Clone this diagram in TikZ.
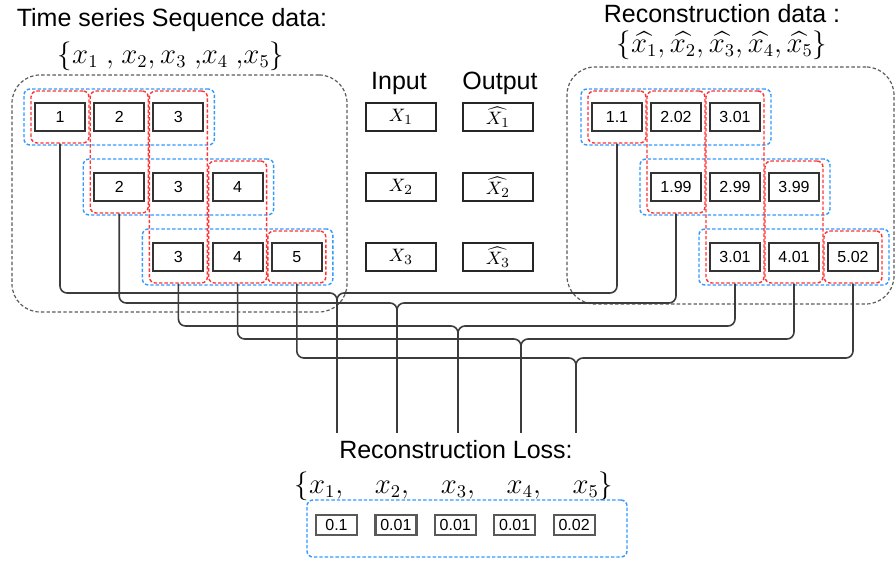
\documentclass[tikz,border=0pt]{standalone}
\usepackage{fontspec}
\setmainfont{Liberation Sans}
\usepackage{amsmath}
\usepackage{tikz}
\usetikzlibrary{positioning,fit}
\definecolor{winblue}{RGB}{51,153,255}
\definecolor{stepred}{RGB}{255,51,51}
\definecolor{framegray}{RGB}{90,90,90}
\definecolor{wiregray}{RGB}{60,60,60}

\begin{document}
\begin{tikzpicture}[x=0.5pt, y=-0.5pt,
    title/.style={inner sep=0pt, font=\fontsize{12.5}{15}\selectfont},
    mathlbl/.style={inner sep=0pt, font=\fontsize{13.5}{16}\selectfont},
    cell/.style={draw=black!80, line width=1pt, minimum width=25pt, minimum height=14pt, inner sep=0pt, font=\fontsize{8}{10}\selectfont},
    midcell/.style={draw=black!85, line width=0.8pt, minimum width=35pt, minimum height=14pt, inner sep=0pt, font=\fontsize{9.5}{11}\selectfont},
    losscell/.style={draw=black!65, line width=1.1pt, minimum width=20.5pt, minimum height=10pt, inner sep=0pt, font=\fontsize{8}{10}\selectfont},
    rowgrp/.style={draw=winblue, line width=0.7pt, dash pattern=on 1.7pt off 1pt, rounded corners=3pt, inner xsep=5pt, inner ysep=6.5pt},
    colgrp/.style={draw=stepred, line width=0.7pt, dash pattern=on 1.7pt off 1pt, rounded corners=3pt, inner xsep=1.5pt, inner ysep=5.5pt},
    outergrp/.style={draw=framegray, line width=0.6pt, dash pattern=on 1.7pt off 1.1pt, rounded corners=14pt, inner sep=0pt},
    wire/.style={draw=wiregray, line width=0.8pt, rounded corners=3.5pt}]
\useasboundingbox (0,0) rectangle (896,561);

% Titles
\node[title] (seqlbl) at (172,20) {Time series Sequence data:};
\node[mathlbl] (seqset) at (171,56) {$\{x_1\ {,}\ x_2, x_3\ {,}x_4\ {,}x_5\}$};
\node[title] (reclbl) at (722,14) {Reconstruction data :};
\node[mathlbl] (recset) at (722,45) {$\{\widehat{x_1}, \widehat{x_2}, \widehat{x_3}, \widehat{x_4}, \widehat{x_5}\}$};
\node[title] (inlbl) at (399,83) {Input};
\node[title] (outlbl) at (500,83) {Output};

% Outer frames
\node[outergrp, fit={(12,75) (347,312)}] (seqbox) {};
\node[outergrp, fit={(567,67) (894,304)}] (recbox) {};

% Sliding windows: input data and reconstruction
\foreach \r/\c/\v in {1/1/1, 1/2/2, 1/3/3, 2/2/2, 2/3/3, 2/4/4, 3/3/3, 3/4/4, 3/5/5}
    \node[cell] (l\r\c) at ({60+(\c-1)*59.2}, {47+70*\r}) {\v};
\foreach \r/\c/\v in {1/1/1.1, 1/2/2.02, 1/3/3.01, 2/2/1.99, 2/3/2.99, 2/4/3.99, 3/3/3.01, 3/4/4.01, 3/5/5.02}
    \node[cell] (h\r\c) at ({617+(\c-1)*59}, {47+70*\r}) {\v};

% Input / output windows
\foreach \r in {1,2,3} {
    \node[midcell] (in\r) at (401, {47+70*\r}) {$X_\r$};
    \node[midcell] (out\r) at (498, {47+70*\r}) {$\widehat{X_\r}$};
}

% Windows (blue) and time steps (red)
\foreach \s in {l,h} {
    \foreach \r in {1,2,3} {
        \pgfmathtruncatemacro\e{\r+2}
        \node[rowgrp, fit=(\s\r\r)(\s\r\e)] (\s-row\r) {};
    }
    \node[colgrp, fit=(\s11)] (\s-col1) {};
    \node[colgrp, fit=(\s12)(\s22)] (\s-col2) {};
    \node[colgrp, fit=(\s13)(\s33)] (\s-col3) {};
    \node[colgrp, fit=(\s24)(\s34)] (\s-col4) {};
    \node[colgrp, fit=(\s35)] (\s-col5) {};
}

% Wires into the loss
\foreach \c/\mx/\by in {1/337/293, 2/397/303, 3/458/326, 4/521/339, 5/576/358} {
    \coordinate (e\c) at (\mx,433);
    \draw[wire] (l-col\c.south) |- (\mx,\by) -- (e\c);
    \draw[wire] (h-col\c.south) |- (\mx,\by) -- (e\c);
}

% Reconstruction loss
\node[title] (losslbl) at (456,450) {Reconstruction Loss:};
\node[mathlbl] (lossset) at (454,486) {$\{x_1,\quad x_2,\quad x_3,\quad x_4,\quad x_5\}$};
\foreach \i/\v in {1/0.1, 2/0.01, 3/0.01, 4/0.01, 5/0.02}
    \node[losscell] (b\i) at ({336.5+(\i-1)*59.4}, 525) {\v};
\node[rowgrp, fit={(307,500) (627,557)}, inner sep=0pt] (lossgrp) {};
\end{tikzpicture}
\end{document}
